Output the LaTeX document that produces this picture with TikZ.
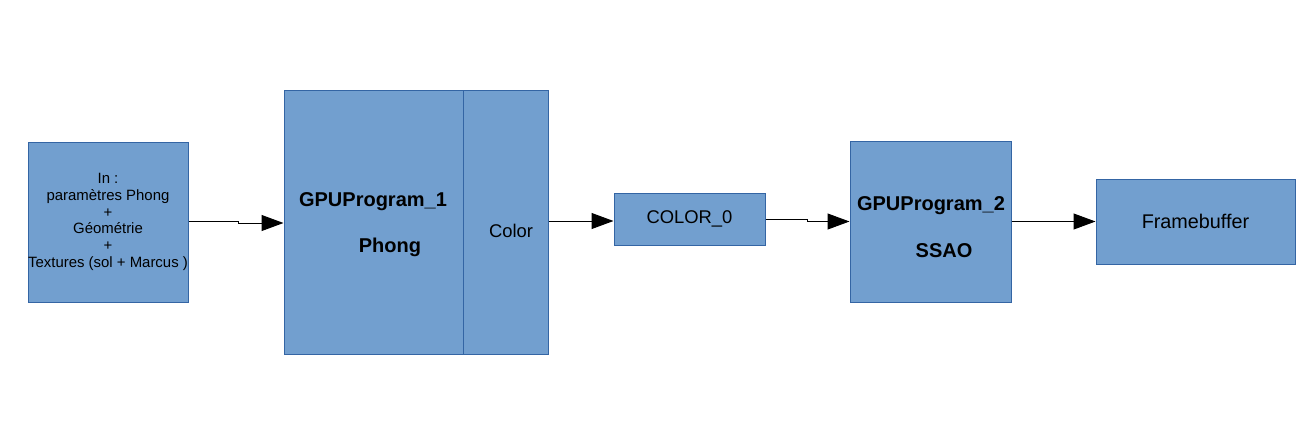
\documentclass[tikz,border=0pt]{standalone}
\usepackage{fontspec}
\setmainfont{Liberation Sans}
\usepackage{tikz}
\usetikzlibrary{positioning}
\usetikzlibrary{arrows.meta}
\usepackage{xcolor}
\definecolor{blockfill}{HTML}{729FCF}
\definecolor{blockline}{HTML}{3465A4}

\begin{document}
\begin{tikzpicture}[x=0.75pt, y=-0.75pt,
    block/.style={draw=blockline, fill=blockfill, line width=0.75pt, rectangle, inner sep=0pt, align=center},
    flow/.style={-{Triangle[length=16.5pt, width=12pt]}, line width=0.75pt}]
    \useasboundingbox (0,0) rectangle (1309,446);

    % Input
    \node (inbox) [block, minimum width=120pt, minimum height=120pt, font=\fontsize{11.2}{12.6}\selectfont] at (108,222)
        {In :\\paramètres Phong\\+\\Géométrie\\+\\Textures (sol + Marcus )};

    % First pass
    \node (prog1) [block, minimum width=134.25pt, minimum height=198pt] at (373.5,222) {};
    \node (colorout) [block, minimum width=63.75pt, minimum height=198pt] at (505.5,222) {};
    \node (prog1name) [font=\fontsize{15}{18}\bfseries] at (373,202) {GPUProgram\_1};
    \node (prog1kind) [font=\fontsize{15}{18}\bfseries] at (390,247) {Phong};
    \node (colorname) [font=\fontsize{13.8}{16}\selectfont] at (511,231) {Color};

    % Intermediate texture
    \node (color0) [block, minimum width=113.25pt, minimum height=39pt, font=\fontsize{13.8}{16}\selectfont] at (689.5,219) {COLOR\_0};

    % Second pass
    \node (prog2) [block, minimum width=120.75pt, minimum height=120.75pt] at (930.5,221.5) {};
    \node (prog2name) [font=\fontsize{15}{18}\bfseries] at (931,206) {GPUProgram\_2};
    \node (prog2kind) [font=\fontsize{15}{18}\bfseries] at (944,251) {SSAO};

    % Output
    \node (fbuf) [block, minimum width=149.25pt, minimum height=63.75pt, font=\fontsize{14.85}{17}\selectfont] at (1195.5,221.5) {Framebuffer};

    % Arrows between passes
    \draw[flow] ([yshift=0.75pt]inbox.east) -| ++(50,0) |- ([yshift=-0.75pt]prog1.west);
    \draw[flow] (colorout.east |- color0.west) ++(0,2) -- ([yshift=-1.5pt]color0.west);
    \draw[flow] (color0.east) -| ++(42,0) |- (prog2.west);
    \draw[flow] (prog2.east) -- (fbuf.west);
\end{tikzpicture}
\end{document}
